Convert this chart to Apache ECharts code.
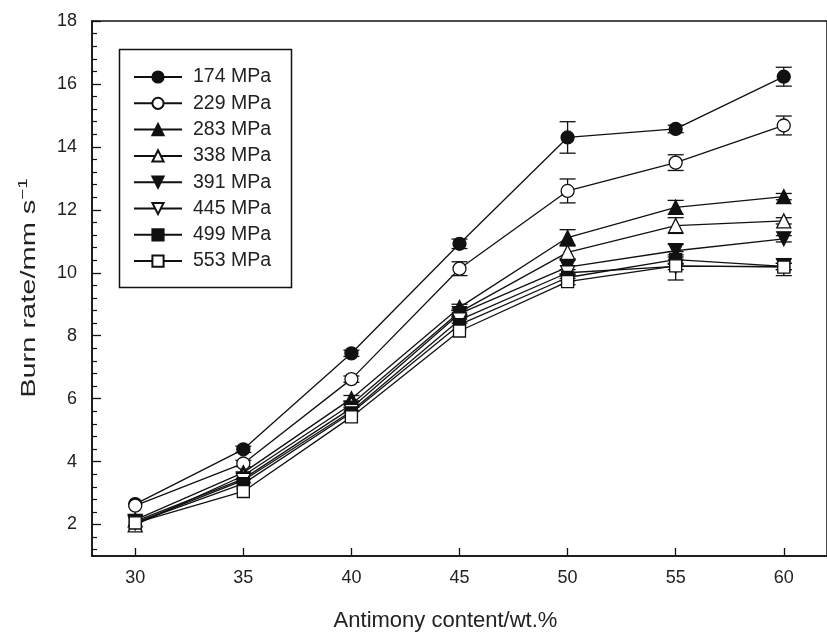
<!DOCTYPE html>
<html>
<head>
<meta charset="utf-8">
<script src="https://cdn.jsdelivr.net/npm/echarts@6/dist/echarts.min.js"></script>
<style>
  html, body { margin: 0; padding: 0; background: #fff; }
  #chart { width: 827px; height: 637px; }
</style>
</head>
<body>
<div id="chart"></div>
<script>
// Antimony content (wt.%)
const antimony = [30, 35, 40, 45, 50, 55, 60];

// Pressure levels shown in the legend
const pressures = ['174 MPa', '229 MPa', '283 MPa', '338 MPa', '391 MPa', '445 MPa', '499 MPa', '553 MPa'];

// Burn rate (mm/s) for each pressure
const rate174 = [2.65, 4.39, 7.44, 10.92, 14.30, 14.57, 16.23];
const rate229 = [2.60, 3.94, 6.62, 10.13, 12.60, 13.50, 14.68];
const rate283 = [2.15, 3.65, 6.00, 8.90, 11.12, 12.08, 12.42];
const rate338 = [1.99, 3.55, 5.82, 8.75, 10.65, 11.50, 11.65];
const rate391 = [2.10, 3.45, 5.70, 8.70, 10.18, 10.70, 11.08];
const rate445 = [2.05, 3.40, 5.60, 8.50, 10.00, 10.20, 10.20];
const rate499 = [2.05, 3.30, 5.55, 8.35, 9.85, 10.42, 10.20];
const rate553 = [2.05, 3.05, 5.42, 8.15, 9.72, 10.22, 10.18];

// Standard deviations (mm/s); 0 means no bar drawn
const err174 = [0, 0.10, 0.10, 0.15, 0.50, 0.12, 0.30];
const err229 = [0, 0.10, 0.10, 0.22, 0.38, 0.25, 0.30];
const err283 = [0, 0, 0.10, 0.10, 0.25, 0.22, 0.10];
const err338 = [0, 0, 0.10, 0.10, 0.20, 0.25, 0.10];
const err391 = [0, 0, 0, 0.10, 0.22, 0.20, 0.10];
const err445 = [0, 0, 0, 0.10, 0.10, 0.10, 0.10];
const err499 = [0, 0, 0, 0, 0.10, 0.15, 0.10];
const err553 = [0, 0, 0, 0, 0.10, 0.45, 0.27];

// Axis tick values
const xTicks = [30, 35, 40, 45, 50, 55, 60];
const yMajor = [2, 4, 6, 8, 10, 12, 14, 16, 18];
const yMinor = [1.2, 1.6, 2.4, 2.8, 3.2, 3.6, 4.4, 4.8, 5.2, 5.6, 6.4, 6.8, 7.2, 7.6,
                8.4, 8.8, 9.2, 9.6, 10.4, 10.8, 11.2, 11.6, 12.4, 12.8, 13.2, 13.6,
                14.4, 14.8, 15.2, 15.6, 16.4, 16.8, 17.2, 17.6];

const rates = [rate174, rate229, rate283, rate338, rate391, rate445, rate499, rate553];
const errs = [err174, err229, err283, err338, err391, err445, err499, err553];

const INK = '#111';
const TEXT = '#222';
const FONT = '"Liberation Sans", Arial, sans-serif';

// marker look per pressure: shape, filled?, rotation
const markers = [
  { symbol: 'circle', filled: true, rotate: 0, size: 13 },
  { symbol: 'circle', filled: false, rotate: 0, size: 13 },
  { symbol: 'triangle', filled: true, rotate: 0, size: 14 },
  { symbol: 'triangle', filled: false, rotate: 0, size: 14 },
  { symbol: 'triangle', filled: true, rotate: 180, size: 14 },
  { symbol: 'triangle', filled: false, rotate: 180, size: 14 },
  { symbol: 'rect', filled: true, rotate: 0, size: 12 },
  { symbol: 'rect', filled: false, rotate: 0, size: 12 }
];

// later series are drawn over earlier ones
const lineSeries = pressures.map((name, i) => ({
  name: name,
  type: 'line',
  data: antimony.map((x, j) => [x, rates[i][j]]),
  symbol: markers[i].symbol,
  symbolSize: markers[i].size,
  symbolRotate: markers[i].rotate,
  showAllSymbol: true,
  lineStyle: { color: INK, width: 1.3 },
  itemStyle: {
    color: markers[i].filled ? INK : '#fff',
    borderColor: INK,
    borderWidth: 1.3
  },
  emphasis: { disabled: true },
  z: 3,
  animation: false
}));

// error bars: [x, low, high]
const errData = [];
rates.forEach((r, i) => {
  r.forEach((v, j) => {
    if (errs[i][j] > 0) errData.push([antimony[j], v - errs[i][j], v + errs[i][j]]);
  });
});

const errorSeries = {
  type: 'custom',
  data: errData,
  z: 2,
  animation: false,
  silent: true,
  renderItem: function (params, api) {
    const x = api.value(0);
    const lo = api.coord([x, api.value(1)]);
    const hi = api.coord([x, api.value(2)]);
    const half = 8;
    const style = { stroke: INK, lineWidth: 1.3 };
    return {
      type: 'group',
      children: [
        { type: 'line', shape: { x1: lo[0], y1: lo[1], x2: hi[0], y2: hi[1] }, style: style },
        { type: 'line', shape: { x1: lo[0] - half, y1: lo[1], x2: lo[0] + half, y2: lo[1] }, style: style },
        { type: 'line', shape: { x1: hi[0] - half, y1: hi[1], x2: hi[0] + half, y2: hi[1] }, style: style }
      ]
    };
  }
};

const chart = echarts.init(document.getElementById('chart'), null, { renderer: 'canvas' });

chart.setOption({
  animation: false,
  backgroundColor: '#fff',
  grid: {
    left: 92, top: 21, right: -9, bottom: 78,
    show: true, borderColor: INK, borderWidth: 1.5, backgroundColor: 'transparent'
  },
  xAxis: {
    type: 'value',
    min: 28, max: 62,
    name: 'Antimony content/wt.%',
    nameLocation: 'middle',
    nameGap: 54,
    nameTextStyle: { fontFamily: FONT, fontSize: 22, color: TEXT, padding: [0, 28, 0, 0] },
    axisLine: { show: true, onZero: false, lineStyle: { color: INK, width: 1.5 } },
    axisTick: { show: true, inside: true, length: 8, customValues: xTicks, lineStyle: { color: INK, width: 1.3 } },
    axisLabel: { customValues: xTicks, margin: 13, fontFamily: FONT, fontSize: 18, color: TEXT },
    splitLine: { show: false }
  },
  yAxis: [
    {
      type: 'value',
      min: 1, max: 18,
      axisLine: { show: true, onZero: false, lineStyle: { color: INK, width: 1.5 } },
      axisTick: { show: true, inside: true, length: 9, customValues: yMajor, lineStyle: { color: INK, width: 1.3 } },
      axisLabel: { customValues: yMajor, margin: 15, fontFamily: FONT, fontSize: 18, color: TEXT },
      splitLine: { show: false }
    },
    {
      type: 'value',
      min: 1, max: 18,
      position: 'left',
      axisLine: { show: false },
      axisTick: { show: true, inside: true, length: 5, customValues: yMinor, lineStyle: { color: INK, width: 1.2 } },
      axisLabel: { show: false },
      splitLine: { show: false }
    }
  ],
  legend: {
    orient: 'vertical',
    left: 133, top: 67,
    padding: 0,
    itemWidth: 48,
    itemHeight: 14,
    itemGap: 6.3,
    data: pressures,
    selectedMode: false,
    textStyle: { fontFamily: FONT, fontSize: 19.5, color: TEXT, padding: [0, 0, 0, 6] }
  },
  graphic: [
    {
      type: 'rect',
      shape: { x: 119.5, y: 49.5, width: 172, height: 238 },
      style: { fill: 'none', stroke: INK, lineWidth: 1.5 },
      silent: true,
      z: 100
    },
    {
      // vertical axis title, stretched along its baseline
      type: 'text',
      x: 29, y: 288,
      rotation: Math.PI / 2,
      scaleX: 1.45,
      style: {
        text: '{a|Burn rate/mm s}{b|\u22121}',
        align: 'center',
        verticalAlign: 'middle',
        fill: TEXT,
        rich: {
          a: { fontFamily: FONT, fontSize: 20, fill: TEXT, lineHeight: 24 },
          b: { fontFamily: FONT, fontSize: 13, fill: TEXT, verticalAlign: 'top', lineHeight: 24 }
        }
      },
      silent: true
    }
  ],
  series: lineSeries.concat([errorSeries])
});
</script>
</body>
</html>
